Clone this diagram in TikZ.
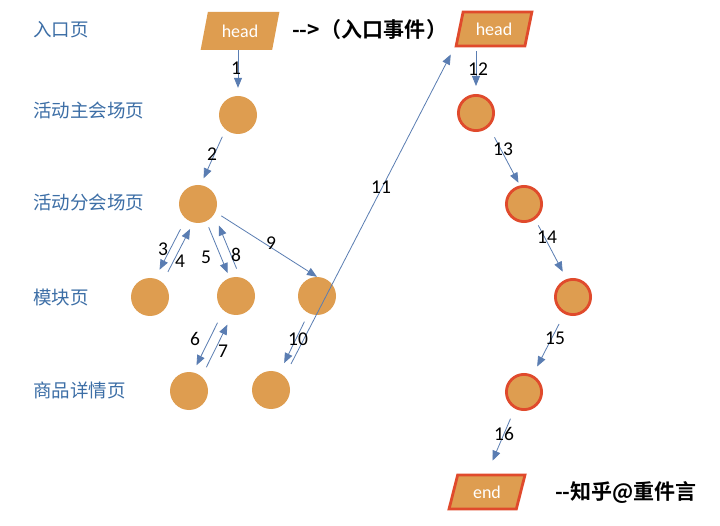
\documentclass[tikz,border=0pt]{standalone}
\usepackage{fontspec}
\setmainfont{Carlito}
\newfontfamily\cjk{Noto Sans CJK SC}
\newfontfamily\cjkb{Noto Sans CJK SC Bold}
\usetikzlibrary{shapes.geometric,arrows.meta,calc}
\definecolor{org}{HTML}{DE9D50}
\definecolor{redb}{HTML}{E04A2C}
\definecolor{arrc}{HTML}{5A7DB2}
\definecolor{lblc}{HTML}{3C6EA6}
\tikzset{
 pg/.style={trapezium, trapezium left angle=72, trapezium right angle=108, trapezium stretches=true,
   minimum width=79pt, minimum height=38pt, fill=org, text=white, font=\fontsize{18}{18}\selectfont, inner sep=0pt},
 pgr/.style={pg, draw=redb, line width=2.8pt, minimum width=76pt, minimum height=34pt},
 dot/.style={circle, fill=org, minimum size=38pt, inner sep=0pt},
 dotr/.style={dot, draw=redb, line width=2.8pt, minimum size=35.2pt},
 rowlbl/.style={anchor=west, text=lblc, font=\cjk\fontsize{18.5}{18.5}\selectfont, inner sep=0pt},
 num/.style={font=\fontsize{19.5}{19.5}\selectfont, inner sep=0pt},
 arr/.style={draw=arrc, line width=0.8pt, -{Triangle[length=10pt,width=8pt]}},
 lane/.style={to path={($(\tikztostart)!#1!-90:(\tikztotarget)$) -- ($(\tikztotarget)!#1!90:(\tikztostart)$)}},
}
\begin{document}
\begin{tikzpicture}[x=1pt,y=-1pt]
\useasboundingbox[fill=white] (0,0) rectangle (720,526);
% row labels
\node[rowlbl] (t1) at (33,30) {入口页};
\node[rowlbl] (t2) at (33,111) {活动主会场页};
\node[rowlbl] (t3) at (33,203) {活动分会场页};
\node[rowlbl] (t4) at (33,297) {模块页};
\node[rowlbl] (t5) at (33,390) {商品详情页};
% heads
\node[pg] (H1) at (240,31) {head};
\node[pgr] (H2) at (494,29) {head};
\node[pgr] (End) at (487,492) {end};
\node[font=\cjkb\fontsize{21}{21}\selectfont, inner sep=0pt] (ev) at (370,30) {-->\hspace{1pt}（入口事件\hspace{1pt}）};
\node[font=\cjkb\fontsize{21}{21}\selectfont, inner sep=0pt] (wm) at (626,493) {--知乎@重件言};
% left tree
\node[dot] (L1) at (238,115) {};
\node[dot] (L2) at (198,204) {};
\node[dot] (L3a) at (150,297) {};
\node[dot] (L3b) at (236,296) {};
\node[dot] (L3c) at (317,296) {};
\node[dot] (L4a) at (189,391) {};
\node[dot] (L4b) at (271,390) {};
% right chain
\node[dotr] (R1) at (476,113) {};
\node[dotr] (R2) at (524,204) {};
\node[dotr] (R3) at (573,297) {};
\node[dotr] (R4) at (524,392) {};
% arrows
\draw[arr, shorten >=8pt] (L1 |- H1.south) -- (L1);
\draw[arr, shorten <=26.3pt, shorten >=25.7pt] (L1) to[lane=5.4pt] (L2);
\draw[arr, shorten <=30.5pt, shorten >=28.6pt] (L2) to[lane=4pt] (L3a);
\draw[arr, shorten <=30.5pt, shorten >=25.9pt] (L3a) to[lane=4.4pt] (L2);
\draw[arr, shorten <=25.6pt, shorten >=24.4pt] (L2) to[lane=-1pt] (L3b);
\draw[arr, shorten <=25.1pt, shorten >=27.8pt] (L3b) to[lane=11pt] (L2);
\draw[arr, shorten <=7pt] (L2.-25) -- (L3c.north);
\draw[arr, shorten <=32.1pt, shorten >=26.4pt] (L3b) to[lane=4.7pt] (L4a);
\draw[arr, shorten <=29pt, shorten >=29.5pt] (L4a) to[lane=5pt] (L3b);
\draw[arr, shorten <=28.6pt, shorten >=30pt] (L3c) to[lane=0pt] (L4b);
\draw[arr, shorten <=14pt, shorten >=8pt] (L4b.45) -- (H2.bottom left corner);
\draw[arr, shorten <=4pt, shorten >=8pt] (R1 |- H2.south) -- (R1);
\draw[arr, shorten <=30.1pt, shorten >=21.4pt] (R1) to[lane=-5pt] (R2);
\draw[arr, shorten <=25.6pt, shorten >=27.2pt] (R2) to[lane=-2.7pt] (R3);
\draw[arr, shorten <=30.4pt, shorten >=28.7pt] (R3) to[lane=0pt] (R4);
\draw[arr, shorten <=11pt, shorten >=14pt] (R4.-119) -- (End.north);
% numbers
\node[num] (n1) at (236,68) {1};
\node[num] (n2) at (212,154) {2};
\node[num] (n3) at (163,249) {3};
\node[num] (n4) at (180,261) {4};
\node[num] (n5) at (206,257) {5};
\node[num] (n8) at (236,255) {8};
\node[num] (n9) at (271,243) {9};
\node[num] (n6) at (195,339) {6};
\node[num] (n7) at (223,351) {7};
\node[num] (n10) at (298,339) {10};
\node[num] (n11) at (381,187) {11};
\node[num] (n12) at (478,69) {12};
\node[num] (n13) at (503,149) {13};
\node[num] (n14) at (547,237) {14};
\node[num] (n15) at (555,338) {15};
\node[num] (n16) at (504,434) {16};
\end{tikzpicture}
\end{document}
